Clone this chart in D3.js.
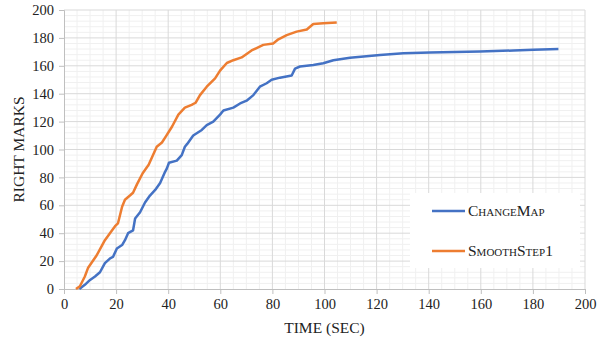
<!DOCTYPE html>
<html>
<head>
<meta charset="utf-8">
<script src="https://cdn.jsdelivr.net/npm/d3@7"></script>
<style>
  body { margin: 0; background: #fff; }
  svg text { font-family: "Liberation Serif", serif; fill: #222; }
</style>
</head>
<body>
<div id="chart"></div>
<script>
// values
var changeMapX = [5.9, 8, 10, 11.9, 13.8, 15.7, 17.7, 18.8, 20.3, 22.3, 23.4, 24.6, 26.5, 27.3, 29.2, 31.1, 33, 35, 36.9, 38.8, 39.5, 40.3, 43.3, 45.2, 46.4, 47.3, 49.6, 52.9, 54.8, 57.3, 59.9, 61.2, 65, 67.6, 70.1, 72.7, 75.2, 77.8, 79.7, 82.9, 87.4, 88.7, 90.6, 95.7, 99.5, 103.4, 109.8, 121.3, 130.3, 140.5, 159.7, 172.5, 180.2, 189.8];
var changeMapY = [0, 3, 6.5, 9, 12, 18.5, 22, 23, 29, 31.5, 35, 40, 42, 50.5, 55, 62, 67, 71, 76, 84, 86.5, 90.5, 92, 96, 102, 104, 110, 114, 117.5, 120, 125, 128, 130, 133, 135, 139, 145, 147.5, 150, 151.5, 153, 158, 159.5, 160.5, 161.8, 164, 165.7, 167.7, 169, 169.5, 170.2, 171, 171.5, 172];

var smoothX = [4.6, 6.1, 8, 9.2, 12.5, 15.7, 18.4, 19.6, 20.7, 22.3, 23.4, 25.3, 26.5, 28, 30.2, 32.5, 35.6, 37.6, 39.3, 41.5, 43.9, 46.4, 49, 50.5, 52.2, 54.8, 58, 59.9, 62.5, 65, 68.2, 72, 76.5, 80.3, 82.3, 85.5, 89.3, 93.2, 95.7, 99.5, 104.7];
var smoothY = [0, 2, 9, 15, 24, 35, 42, 45, 47, 59, 64, 67, 69, 75, 83, 89, 102, 105, 110, 116.5, 125, 130, 132, 133.5, 139, 145, 151, 156.5, 162, 164, 166, 171, 175, 176, 179, 182, 184.5, 186, 190, 190.5, 191];

var seriesNames = ["ChangeMap", "SmoothStep1"];
var seriesColors = ["#4472C4", "#ED7D31"];
var xTicks = d3.range(0, 201, 20);
var yTicks = d3.range(0, 201, 20);

var width = 600, height = 345;
var margin = {top: 10, right: 15, bottom: 56, left: 64};
var serif = '"Liberation Serif", serif';

var svg = d3.select("#chart").append("svg")
  .attr("width", width)
  .attr("height", height)
  .style("font-family", serif);

var x = d3.scaleLinear().domain([0, 200]).range([margin.left, width - margin.right]);
var y = d3.scaleLinear().domain([0, 200]).range([height - margin.bottom, margin.top]);

// minor grid
svg.append("g").selectAll("line")
  .data(d3.range(0, 201, 5).filter(function(d){ return d % 20; }))
  .enter().append("line")
  .attr("x1", x).attr("x2", x)
  .attr("y1", y(0)).attr("y2", y(200))
  .attr("stroke", "#f0f0f0");
svg.append("g").selectAll("line")
  .data(d3.range(0, 201, 4).filter(function(d){ return d % 20; }))
  .enter().append("line")
  .attr("y1", y).attr("y2", y)
  .attr("x1", x(0)).attr("x2", x(200))
  .attr("stroke", "#f0f0f0");

// major grid
svg.append("g").selectAll("line")
  .data(xTicks.slice(1))
  .enter().append("line")
  .attr("x1", x).attr("x2", x)
  .attr("y1", y(0)).attr("y2", y(200))
  .attr("stroke", "#d9d9d9");
svg.append("g").selectAll("line")
  .data(yTicks.slice(1))
  .enter().append("line")
  .attr("y1", y).attr("y2", y)
  .attr("x1", x(0)).attr("x2", x(200))
  .attr("stroke", "#d9d9d9");

// axes
var xAxis = svg.append("g")
  .attr("transform", "translate(0," + y(0) + ")")
  .call(d3.axisBottom(x).tickValues(xTicks).tickSize(5).tickPadding(5));
var yAxis = svg.append("g")
  .attr("transform", "translate(" + x(0) + ",0)")
  .call(d3.axisLeft(y).tickValues(yTicks).tickSize(5).tickPadding(5));
[xAxis, yAxis].forEach(function(g){
  g.attr("font-family", null).attr("font-size", null);
  g.select(".domain").attr("stroke", "#bfbfbf");
  g.selectAll(".tick line").attr("stroke", "#bfbfbf");
  g.selectAll(".tick text")
    .style("font-family", serif)
    .style("font-size", "14.5px").attr("fill", "#222");
});

// lines
var line = d3.line()
  .x(function(d){ return x(d[0]); })
  .y(function(d){ return y(d[1]); });

var seriesData = [
  d3.zip(changeMapX, changeMapY),
  d3.zip(smoothX, smoothY)
];

svg.selectAll("path.series")
  .data(seriesData)
  .enter().append("path")
  .attr("class", "series")
  .attr("d", line)
  .attr("fill", "none")
  .attr("stroke", function(d, i){ return seriesColors[i]; })
  .attr("stroke-width", 2.5)
  .attr("stroke-linejoin", "round");

// axis titles
svg.append("text")
  .attr("x", (x(0) + x(200)) / 2)
  .attr("y", 333)
  .attr("text-anchor", "middle")
  .style("font-size", "15.5px")
  .text("TIME (SEC)");

svg.append("text")
  .attr("transform", "translate(24," + (y(100)) + ") rotate(-90)")
  .attr("text-anchor", "middle")
  .style("font-size", "15.5px")
  .text("RIGHT MARKS");

// legend
var legend = svg.append("g");
legend.append("rect")
  .attr("x", 410).attr("y", 193)
  .attr("width", 170).attr("height", 75)
  .attr("fill", "#fff");

var items = legend.selectAll("g.item")
  .data(seriesNames)
  .enter().append("g")
  .attr("class", "item")
  .attr("transform", function(d, i){ return "translate(432," + (211 + i * 40) + ")"; });
items.append("line")
  .attr("x1", 0).attr("x2", 33)
  .attr("stroke", function(d, i){ return seriesColors[i]; })
  .attr("stroke-width", 2.5);
items.append("text")
  .attr("x", 36).attr("y", 5)
  .style("font-size", "15.5px")
  .style("font-variant", "small-caps")
  .text(function(d){ return d; });
</script>
</body>
</html>
